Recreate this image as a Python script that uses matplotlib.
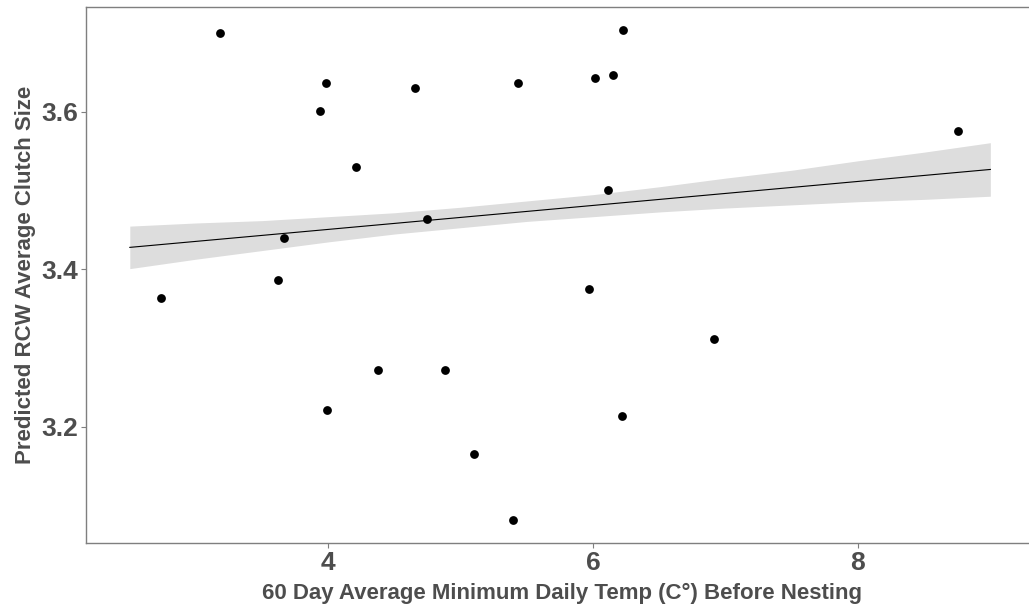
import matplotlib
matplotlib.use("Agg")
import matplotlib.pyplot as plt

# observed points: 60-day avg min temp vs predicted clutch size
temp = [3.18, 3.983, 3.94, 4.205, 4.656, 5.431, 6.017, 6.146, 6.224, 8.759,
        3.664, 3.619, 2.732, 4.746, 6.111, 5.965, 6.914, 4.378, 3.991, 4.88,
        6.217, 5.103, 5.396]
clutch = [3.701, 3.637, 3.601, 3.53, 3.631, 3.637, 3.643, 3.647, 3.704, 3.576,
          3.44, 3.386, 3.364, 3.464, 3.501, 3.375, 3.312, 3.272, 3.221, 3.272,
          3.214, 3.166, 3.082]

# fitted line and confidence band
fit_x = [2.5, 9.0]
fit_y = [3.428, 3.527]
band_x = [2.5, 3.0, 3.5, 4.0, 4.5, 5.0, 5.5, 6.0, 6.5, 7.0, 7.5, 8.0, 8.5, 9.0]
band_hi = [3.455, 3.459, 3.462, 3.467, 3.472, 3.479, 3.487, 3.495, 3.505,
           3.516, 3.526, 3.538, 3.549, 3.561]
band_lo = [3.401, 3.413, 3.424, 3.435, 3.445, 3.453, 3.461, 3.467, 3.473,
           3.478, 3.482, 3.486, 3.489, 3.493]

xticks = [4, 6, 8]
yticks = [3.2, 3.4, 3.6]

plt.rcParams['font.family'] = ['Liberation Sans', 'DejaVu Sans']

fig = plt.figure(figsize=(10.29, 6.12), dpi=100)
# right edge of the panel runs just past the image edge, like the reference
ax = fig.add_axes([86 / 1029, 69 / 612, 952 / 1029, 536 / 612])

ax.fill_between(band_x, band_lo, band_hi, color='#dddddd', lw=0, zorder=1)
ax.plot(fit_x, fit_y, color='black', lw=0.8, zorder=2)
ax.scatter(temp, clutch, s=40, color='black', lw=0, zorder=3)

ax.set_xlim(2.169, 9.36)
ax.set_ylim(3.0524, 3.7334)
ax.set_xticks(xticks)
ax.set_xticklabels([str(t) for t in xticks])
ax.set_yticks(yticks)
ax.set_yticklabels([f"{t:.1f}" for t in yticks])

grey = '#4d4d4d'
for s in ax.spines.values():
    s.set_color('#7f7f7f')
    s.set_linewidth(1.0)
ax.tick_params(colors='#7f7f7f', length=3.5, width=0.8, labelsize=19,
               labelcolor=grey, pad=2)
for lab in ax.get_xticklabels() + ax.get_yticklabels():
    lab.set_fontweight('bold')

ax.set_xlabel("60 Day Average Minimum Daily Temp (C°) Before Nesting",
              fontsize=16, fontweight='bold', color=grey, labelpad=6)
ax.set_ylabel("Predicted RCW Average Clutch Size",
              fontsize=16, fontweight='bold', color=grey, labelpad=4)

fig.savefig("out.png", dpi=100)
